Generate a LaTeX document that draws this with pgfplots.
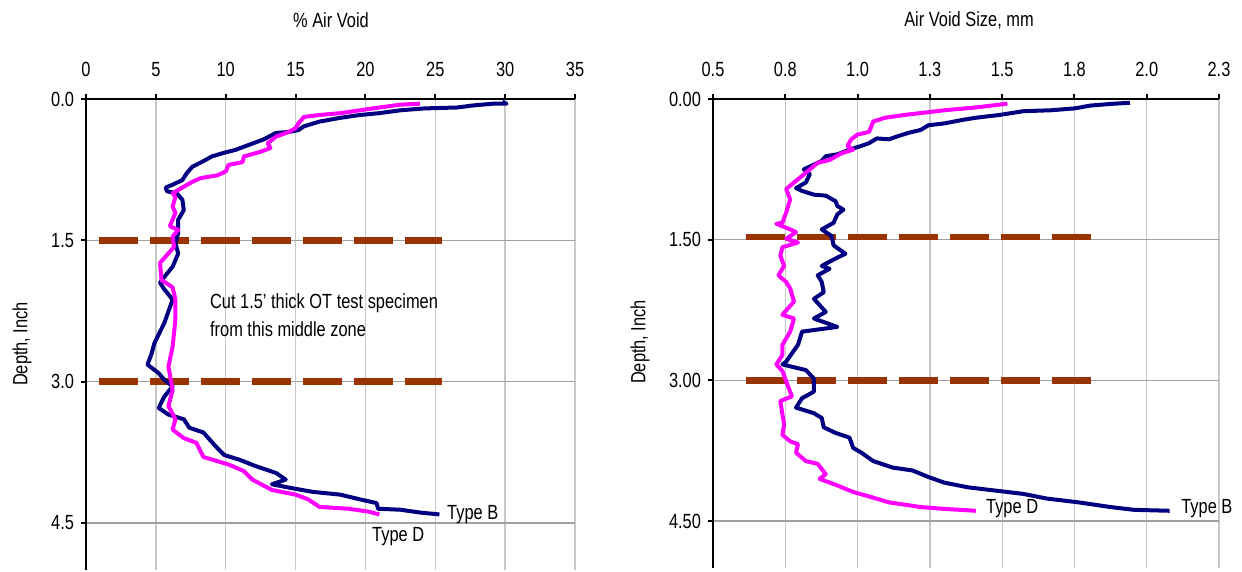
\documentclass[border=0pt]{standalone}
\usepackage{fontspec}
\setmainfont{Liberation Sans}[FakeStretch=0.8]
\usepackage{pgfplots}
\pgfplotsset{compat=1.18}
\definecolor{navyB}{RGB}{0,0,128}
\definecolor{magD}{RGB}{255,0,255}
\definecolor{brn}{RGB}{153,51,0}
\definecolor{grdx}{RGB}{200,200,200}
\definecolor{grdy}{RGB}{160,160,160}
\pgfplotsset{myax/.style={
  scale only axis, y dir=reverse,
  axis x line=top, axis y line=left,
  axis line style={-,line width=2.5pt},
  ymin=0, ymax=5,
  tick align=outside, major tick length=5pt,
  tick style={black,line width=2pt},
  grid=major, x grid style={grdx,line width=1.3pt}, y grid style={grdy,line width=1.3pt},
  ytick={0,1.5,3,4.5},
  xticklabel style={yshift=10pt},
  clip=false,
  curveB/.style={navyB,line width=4pt,line join=round},
  curveD/.style={magD,line width=4pt,line join=round},
  cutline/.style={brn,line width=6.5pt,dash pattern=on 39pt off 12pt},
}}
\begin{document}
\fontsize{20.5}{24}\selectfont
\begin{tikzpicture}
\useasboundingbox (0,0) rectangle (1242pt,571pt);
% ---------------- left panel ----------------
\begin{axis}[myax,
  at={(86pt,472pt)}, anchor=north west,
  width=489pt, height=471pt,
  xmin=0, xmax=35,
  xtick={0,5,10,15,20,25,30,35},
  xticklabels={0,5,10,15,20,25,30,35},
  yticklabels={0.0,1.5,3.0,4.5},
]
\addplot[cutline] coordinates {(0.91,1.5) (25.5,1.5)};
\addplot[cutline] coordinates {(0.91,3.0) (25.5,3.0)};
\addplot[curveB] coordinates {
(29.8,0.03)(30.1,0.05)(29.1,0.05)(27.6,0.07)(26.6,0.09)(24.2,0.10)(22.5,0.12)(21.0,0.15)(19.6,0.17)(18.2,0.20)(16.7,0.24)(15.6,0.29)(15.2,0.33)(14.5,0.35)(13.6,0.36)(12.7,0.43)(11.6,0.49)(10.7,0.54)(9.9,0.57)(9.0,0.61)(8.4,0.66)(7.6,0.72)(7.2,0.79)(6.9,0.86)(6.2,0.91)(5.7,0.94)(5.8,0.98)(6.5,1.0)(6.9,1.07)(7.0,1.18)(6.6,1.28)(6.6,1.42)(6.4,1.53)(6.6,1.64)(6.2,1.78)(5.6,1.89)(5.3,1.95)(5.6,2.02)(6.2,2.13)(5.6,2.38)(4.9,2.59)(4.7,2.70)(4.4,2.82)(5.2,2.91)(5.6,2.98)(6.2,3.05)(5.6,3.16)(5.2,3.28)(5.9,3.35)(7.0,3.40)(7.4,3.49)(8.4,3.54)(9.3,3.69)(9.9,3.78)(11.0,3.83)(12.2,3.90)(13.6,3.97)(14.3,4.04)(13.3,4.09)(14.7,4.13)(16.2,4.17)(18.2,4.20)(19.6,4.25)(20.8,4.29)(20.9,4.35)(22.5,4.36)(23.9,4.39)(25.3,4.41)};
\addplot[curveD] coordinates {
(23.9,0.05)(22.5,0.06)(21.0,0.09)(19.6,0.12)(18.2,0.15)(16.7,0.17)(15.6,0.19)(15.2,0.26)(15.0,0.31)(14.5,0.35)(13.6,0.40)(13.0,0.47)(13.2,0.52)(12.5,0.56)(11.3,0.61)(11.2,0.67)(10.2,0.70)(10.0,0.77)(9.4,0.81)(8.2,0.84)(7.6,0.88)(6.9,0.94)(6.2,1.0)(6.4,1.04)(6.2,1.14)(6.4,1.21)(6.0,1.35)(6.6,1.39)(6.2,1.46)(6.3,1.57)(5.3,1.74)(5.4,1.92)(6.2,2.0)(6.4,2.13)(6.4,2.34)(6.2,2.63)(5.9,2.84)(6.2,3.09)(5.9,3.26)(6.4,3.40)(6.2,3.51)(7.0,3.60)(7.9,3.65)(8.4,3.80)(10.2,3.88)(11.3,3.95)(11.9,4.04)(13.3,4.15)(15.0,4.20)(15.9,4.25)(16.7,4.33)(18.8,4.35)(20.2,4.38)(21.0,4.41)};
\node[anchor=west,align=left,font=\fontsize{20.5}{28}\selectfont] at (axis cs:8.38,2.30) {Cut 1.5' thick OT test specimen\\from this middle zone};
\node[anchor=west,inner sep=0pt] at (axis cs:25.84,4.41) {Type B};
\node[anchor=west,inner sep=0pt] at (axis cs:20.47,4.64) {Type D};
\end{axis}
% ---------------- right panel ----------------
\begin{axis}[myax,
  at={(713pt,472pt)}, anchor=north west,
  width=506pt, height=469pt,
  xmin=0.5, xmax=2.25,
  xtick={0.5,0.75,1,1.25,1.5,1.75,2,2.25},
  xticklabels={0.5,0.8,1.0,1.3,1.5,1.8,2.0,2.3},
  yticklabels={0.00,1.50,3.00,4.50},
]
\addplot[cutline] coordinates {(0.614,1.47) (1.811,1.47)};
\addplot[cutline] coordinates {(0.614,3.0) (1.811,3.0)};
\addplot[curveB] coordinates {
(1.942,0.04)(1.887,0.05)(1.805,0.07)(1.751,0.10)(1.669,0.12)(1.573,0.13)(1.491,0.17)(1.409,0.20)(1.368,0.22)(1.30,0.26)(1.245,0.28)(1.218,0.33)(1.177,0.36)(1.136,0.40)(1.108,0.43)(1.067,0.42)(1.04,0.47)(1.013,0.50)(0.972,0.54)(0.93,0.59)(0.89,0.61)(0.876,0.66)(0.835,0.72)(0.814,0.75)(0.835,0.80)(0.821,0.89)(0.787,0.95)(0.808,0.98)(0.849,1.02)(0.89,1.03)(0.924,1.09)(0.93,1.14)(0.951,1.18)(0.93,1.23)(0.917,1.32)(0.876,1.39)(0.91,1.46)(0.917,1.56)(0.958,1.65)(0.924,1.70)(0.876,1.78)(0.903,1.81)(0.862,1.88)(0.876,1.95)(0.883,2.06)(0.849,2.13)(0.89,2.27)(0.849,2.34)(0.93,2.43)(0.808,2.48)(0.794,2.62)(0.753,2.80)(0.74,2.83)(0.821,2.89)(0.849,2.98)(0.849,3.12)(0.808,3.19)(0.787,3.29)(0.849,3.35)(0.876,3.40)(0.883,3.50)(0.924,3.56)(0.972,3.61)(0.985,3.72)(1.013,3.77)(1.054,3.86)(1.122,3.93)(1.19,3.96)(1.245,4.03)(1.30,4.09)(1.382,4.14)(1.491,4.18)(1.573,4.21)(1.655,4.26)(1.764,4.30)(1.874,4.35)(1.956,4.38)(2.079,4.39)};
\addplot[curveD] coordinates {
(1.518,0.05)(1.409,0.09)(1.30,0.12)(1.163,0.17)(1.095,0.20)(1.054,0.24)(1.04,0.35)(0.999,0.38)(0.978,0.43)(0.965,0.50)(0.985,0.54)(0.944,0.58)(0.903,0.65)(0.862,0.68)(0.835,0.75)(0.808,0.82)(0.78,0.89)(0.753,0.96)(0.767,1.07)(0.753,1.21)(0.74,1.32)(0.719,1.33)(0.767,1.39)(0.787,1.42)(0.753,1.49)(0.794,1.53)(0.74,1.58)(0.733,1.67)(0.746,1.78)(0.726,1.88)(0.753,1.95)(0.767,2.02)(0.78,2.16)(0.74,2.30)(0.78,2.34)(0.767,2.48)(0.74,2.62)(0.74,2.73)(0.719,2.83)(0.74,2.90)(0.753,3.01)(0.773,3.17)(0.733,3.22)(0.74,3.36)(0.746,3.47)(0.74,3.58)(0.767,3.65)(0.794,3.68)(0.787,3.77)(0.821,3.86)(0.862,3.89)(0.89,4.00)(0.869,4.05)(0.93,4.12)(0.985,4.19)(1.054,4.25)(1.108,4.30)(1.218,4.35)(1.30,4.37)(1.409,4.39)};
\node[anchor=west,inner sep=0pt] at (axis cs:1.444,4.37) {Type D};
\node[anchor=west,inner sep=0pt] at (axis cs:2.119,4.37) {Type B};
\end{axis}
% ---------------- titles and axis labels ----------------
\node at (331pt,551pt) {\% Air Void};
\node at (969pt,551pt) {Air Void Size, mm};
\node[rotate=90] at (22pt,227pt) {Depth, Inch};
\node[rotate=90] at (640pt,229pt) {Depth, Inch};
\end{tikzpicture}
\end{document}
